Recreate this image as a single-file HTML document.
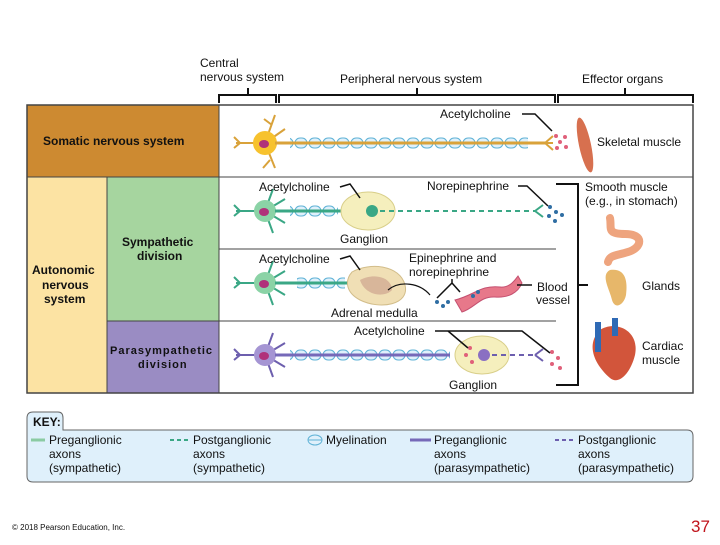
<!DOCTYPE html>
<html><head><meta charset="utf-8"><style>
body{margin:0;background:#fff;width:720px;height:540px;overflow:hidden;font-family:"Liberation Sans",Arial,sans-serif}
svg text{font-family:"Liberation Sans",Arial,sans-serif;font-size:12px;fill:#111}
.b{font-weight:bold}
</style></head><body>
<svg width="720" height="540" viewBox="0 0 720 540">
<defs>
<pattern id="my" x="0" y="1" width="14" height="12" patternUnits="userSpaceOnUse"><rect x="1" y="1" width="12" height="10" rx="5" fill="#dff0fb" stroke="#5fb2d6" stroke-width="1"/></pattern>
<pattern id="my2" x="0" y="5" width="14" height="12" patternUnits="userSpaceOnUse"><rect x="1" y="1" width="12" height="10" rx="5" fill="#dff0fb" stroke="#5fb2d6" stroke-width="1"/></pattern>
</defs>
<!-- header -->
<text x="200" y="67">Central</text>
<text x="200" y="81">nervous system</text>
<text x="340" y="83">Peripheral nervous system</text>
<text x="582" y="83">Effector organs</text>
<g stroke="#111" stroke-width="2" fill="none">
<path d="M219,103V95H276V103M248,95V88"/>
<path d="M279,103V95H555V103M417,95V88"/>
<path d="M558,103V95H693V103M625,95V88"/>
</g>
<!-- table -->
<rect x="27" y="105" width="192" height="72" fill="#cd8a31"/>
<rect x="27" y="177" width="80" height="216" fill="#fce3a3"/>
<rect x="107" y="177" width="112" height="144" fill="#a6d59f"/>
<rect x="107" y="321" width="112" height="72" fill="#9a8cc3"/>
<rect x="27" y="105" width="666" height="288" fill="none" stroke="#444" stroke-width="1.5"/>
<g stroke="#444" stroke-width="1">
<line x1="27" y1="177" x2="693" y2="177"/>
<line x1="219" y1="105" x2="219" y2="393"/>
<line x1="107" y1="177" x2="107" y2="393"/>
<line x1="219" y1="249" x2="556" y2="249"/>
<line x1="107" y1="321" x2="556" y2="321"/>
</g>
<text x="43" y="145" class="b">Somatic nervous system</text>
<text x="122" y="246" class="b">Sympathetic</text><text x="137" y="260" class="b">division</text>
<text x="32" y="274" class="b">Autonomic</text><text x="42" y="289" class="b">nervous</text><text x="44" y="303" class="b">system</text>
<text x="110" y="354" class="b" style="font-size:11px;letter-spacing:1px">Parasympathetic</text><text x="138" y="368" class="b" style="font-size:11px;letter-spacing:1px">division</text>
<!-- somatic neuron -->
<g stroke="#d9a23a" stroke-width="2" fill="none"><path d="M265,143L236,143M240,143l-6,-6M240,143l-6,5M265,143l10,-28M272,125l-8,-6M265,143l10,25M270,160l-7,8M265,143l20,-14"/></g>
<circle cx="265" cy="143" r="12" fill="#f7c22e"/><ellipse cx="264" cy="144" rx="5" ry="4" fill="#b0317a"/>
<rect x="290" y="137" width="238" height="12" fill="url(#my2)"/>
<line x1="275" y1="143" x2="545" y2="143" stroke="#d9a23a" stroke-width="3"/>
<path d="M545,143l8,-7M545,143l8,7M545,143h8" stroke="#d9a23a" stroke-width="2" fill="none"/>
<g fill="#e0607a"><circle cx="556" cy="136" r="2"/><circle cx="560" cy="142" r="2"/><circle cx="565" cy="137" r="2"/><circle cx="557" cy="148" r="2"/><circle cx="566" cy="147" r="2"/></g>
<text x="440" y="118">Acetylcholine</text>
<path d="M522,114H535L552,131" stroke="#111" stroke-width="1.5" fill="none"/>
<ellipse cx="585" cy="145" rx="6" ry="28" fill="#d7704f" transform="rotate(-12 585 145)"/>
<text x="597" y="146">Skeletal muscle</text>
<!-- sym row1 -->
<g stroke="#3aa785" stroke-width="2" fill="none"><path d="M265,211H236M240,211l-6,-6M240,211l-6,5M265,211l8,-22M265,211l8,22M265,211l20,-12M265,211l20,12"/></g>
<circle cx="265" cy="211" r="11" fill="#8bd3a6"/><ellipse cx="264" cy="212" rx="5" ry="4" fill="#b0317a"/>
<rect x="290" y="205" width="48" height="12" fill="url(#my)"/>
<line x1="275" y1="211" x2="355" y2="211" stroke="#3aa785" stroke-width="3"/>
<ellipse cx="368" cy="211" rx="27" ry="19" fill="#f5efbd" stroke="#d9cf8a"/>
<circle cx="372" cy="211" r="6" fill="#3aa785"/>
<path d="M380,211H535" stroke="#3aa785" stroke-width="2" stroke-dasharray="5,4"/>
<path d="M535,211l8,-6M535,211l8,6" stroke="#3aa785" stroke-width="2" fill="none"/>
<g fill="#2f6ea3"><circle cx="550" cy="207" r="2"/><circle cx="556" cy="212" r="2"/><circle cx="549" cy="216" r="2"/><circle cx="562" cy="215" r="2"/><circle cx="555" cy="221" r="2"/></g>
<text x="259" y="191">Acetylcholine</text>
<path d="M340,187L350,184L360,198" stroke="#111" stroke-width="1.5" fill="none"/>
<text x="427" y="190">Norepinephrine</text>
<path d="M518,186H527L548,206" stroke="#111" stroke-width="1.5" fill="none"/>
<text x="340" y="243">Ganglion</text>
<!-- sym row2 -->
<g stroke="#3aa785" stroke-width="2" fill="none"><path d="M265,283H236M240,283l-6,-6M240,283l-6,5M265,283l8,-22M265,283l8,22M265,283l20,-12M265,283l20,12"/></g>
<circle cx="265" cy="283" r="11" fill="#8bd3a6"/><ellipse cx="264" cy="284" rx="5" ry="4" fill="#b0317a"/>
<rect x="297" y="277" width="48" height="12" fill="url(#my)"/>
<line x1="275" y1="283" x2="360" y2="283" stroke="#3aa785" stroke-width="3"/>
<path d="M352,272C370,262,400,265,405,285C410,305,380,310,360,300C345,292,345,280,352,272Z" fill="#f0dfb5" stroke="#d2bd8a"/>
<path d="M360,280C375,272,392,278,392,290C385,298,365,296,360,280Z" fill="#d8b69a"/>
<text x="259" y="263">Acetylcholine</text>
<path d="M340,259L350,256L360,270" stroke="#111" stroke-width="1.5" fill="none"/>
<text x="331" y="317">Adrenal medulla</text>
<path d="M388,290C400,280,420,283,430,295" stroke="#111" stroke-width="1.2" fill="none"/>
<path d="M455,300C475,295,480,285,500,287C510,288,515,280,518,276L522,283C518,293,508,298,495,297C480,296,475,308,462,312Z" fill="#e7788a" stroke="#c45070"/>
<g fill="#2f6ea3"><circle cx="437" cy="302" r="2"/><circle cx="443" cy="306" r="2"/><circle cx="448" cy="302" r="2"/><circle cx="473" cy="296" r="2"/><circle cx="478" cy="292" r="2"/></g>
<text x="409" y="262">Epinephrine and</text>
<text x="409" y="276">norepinephrine</text>
<path d="M437,298L452,283L460,292M452,283V279" stroke="#111" stroke-width="1.5" fill="none"/>
<path d="M517,285H532" stroke="#111" stroke-width="1.5"/>
<text x="537" y="291">Blood</text><text x="536" y="304">vessel</text>
<!-- parasym -->
<g stroke="#6d5fae" stroke-width="2" fill="none"><path d="M265,355H236M240,355l-6,-6M240,355l-6,5M265,355l8,-22M265,355l8,22M265,355l20,-12M265,355l20,12"/></g>
<circle cx="265" cy="355" r="11" fill="#a595d3"/><ellipse cx="264" cy="356" rx="5" ry="4" fill="#b0317a"/>
<rect x="290" y="349" width="160" height="12" fill="url(#my)"/>
<line x1="275" y1="355" x2="450" y2="355" stroke="#7669b8" stroke-width="3"/>
<ellipse cx="482" cy="355" rx="27" ry="19" fill="#f5efbd" stroke="#d9cf8a"/>
<circle cx="484" cy="355" r="6" fill="#8a6fc2"/>
<path d="M492,355H535" stroke="#6d5fae" stroke-width="2" stroke-dasharray="5,4"/>
<path d="M535,355l8,-6M535,355l8,6" stroke="#6d5fae" stroke-width="2" fill="none"/>
<g fill="#e0607a"><circle cx="470" cy="348" r="2"/><circle cx="466" cy="355" r="2"/><circle cx="472" cy="362" r="2"/><circle cx="552" cy="352" r="2"/><circle cx="558" cy="358" r="2"/><circle cx="552" cy="364" r="2"/><circle cx="560" cy="368" r="2"/></g>
<text x="354" y="335">Acetylcholine</text>
<path d="M435,331H522L550,353M448,331L468,348" stroke="#111" stroke-width="1.5" fill="none"/>
<text x="449" y="389">Ganglion</text>
<!-- bracket -->
<path d="M556,184H578V385H556M578,285H588" stroke="#111" stroke-width="2" fill="none"/>
<text x="585" y="191">Smooth muscle</text><text x="585" y="205">(e.g., in stomach)</text>
<path d="M610,218C612,228,606,234,625,234C645,234,642,248,628,252C615,256,610,255,608,262" stroke="#eea47e" stroke-width="8" fill="none" stroke-linecap="round"/>
<path d="M610,270C625,268,628,280,626,295C624,305,615,310,612,300C610,290,600,275,610,270Z" fill="#e7b76a"/>
<text x="642" y="290">Glands</text>
<path d="M600,330C615,320,640,330,635,355C630,375,618,385,610,378C595,365,585,345,600,330Z" fill="#d2553b"/>
<rect x="595" y="322" width="6" height="30" fill="#2f6ab5"/><rect x="612" y="318" width="6" height="18" fill="#2f6ab5"/>
<text x="642" y="350">Cardiac</text><text x="642" y="364">muscle</text>
<!-- key -->
<path d="M27,432V418Q27,412,33,412H58Q63,412,63,418V430H687Q693,430,693,436V476Q693,482,687,482H33Q27,482,27,476Z" fill="#dff0fb" stroke="#666"/>
<text x="33" y="426" class="b">KEY:</text>
<line x1="31" y1="440" x2="45" y2="440" stroke="#8bcba3" stroke-width="3"/>
<text x="49" y="444">Preganglionic</text><text x="49" y="458">axons</text><text x="49" y="472">(sympathetic)</text>
<line x1="170" y1="440" x2="190" y2="440" stroke="#3aa785" stroke-width="2" stroke-dasharray="4,3"/>
<text x="193" y="444">Postganglionic</text><text x="193" y="458">axons</text><text x="193" y="472">(sympathetic)</text>
<ellipse cx="315" cy="440" rx="7" ry="5" fill="#dff0fb" stroke="#5fb2d6"/><line x1="308" y1="440" x2="322" y2="440" stroke="#5fb2d6"/>
<text x="326" y="444">Myelination</text>
<line x1="410" y1="440" x2="431" y2="440" stroke="#7669b8" stroke-width="3"/>
<text x="434" y="444">Preganglionic</text><text x="434" y="458">axons</text><text x="434" y="472">(parasympathetic)</text>
<line x1="555" y1="440" x2="575" y2="440" stroke="#6d5fae" stroke-width="2" stroke-dasharray="4,3"/>
<text x="578" y="444">Postganglionic</text><text x="578" y="458">axons</text><text x="578" y="472">(parasympathetic)</text>
<text x="12" y="530" style="font-size:8px">© 2018 Pearson Education, Inc.</text>
<text x="691" y="532" style="font-size:17px;fill:#c0141c">37</text>
</svg>
</body></html>
